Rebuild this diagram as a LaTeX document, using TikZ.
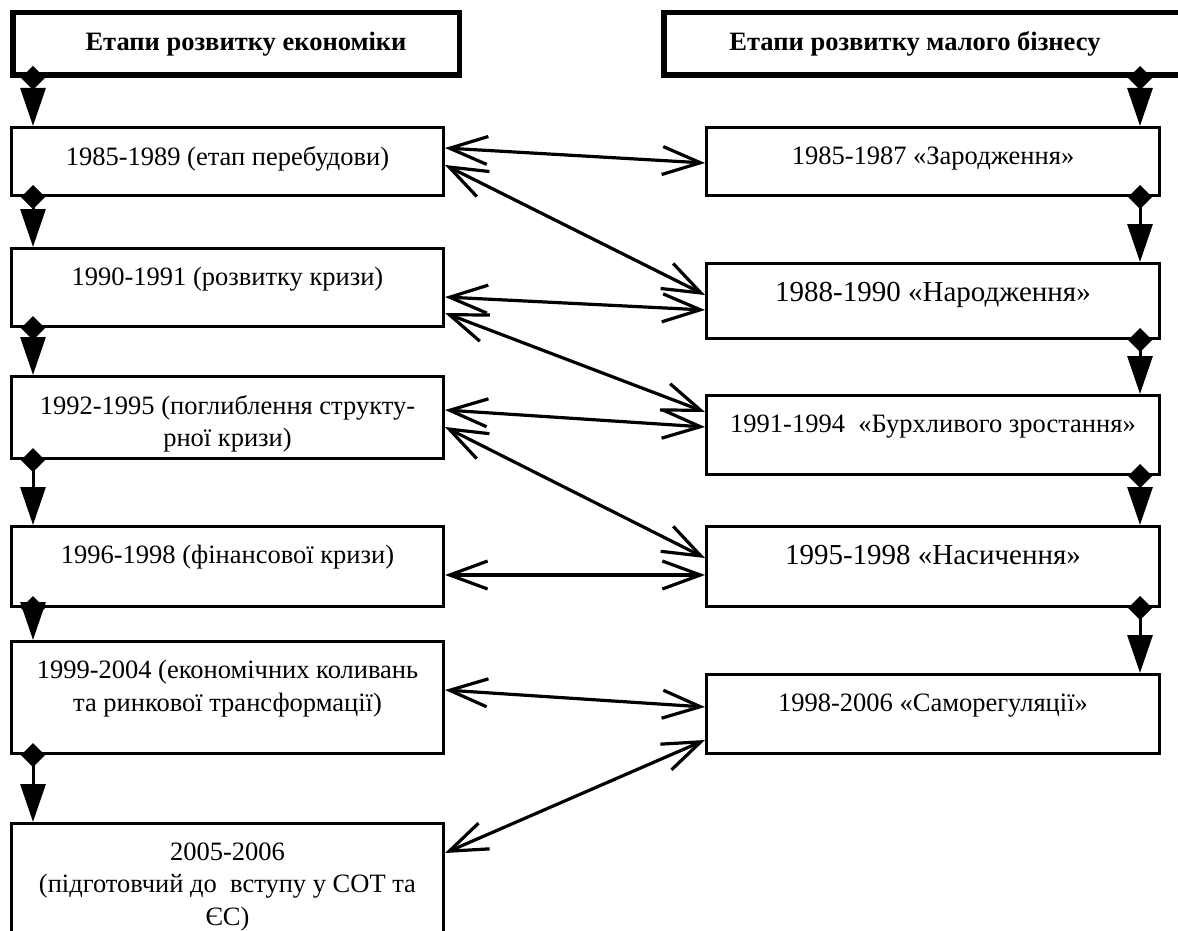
\documentclass[tikz,border=0pt]{standalone}
\usepackage{fontspec}
\setmainfont{Liberation Serif}
\usetikzlibrary{arrows.meta, calc}

\newcommand{\celltext}[3]{\parbox[t][#2][t]{#1}{\centering\vspace{19pt}#3}}

\begin{document}
\begin{tikzpicture}[x=1pt, y=-1pt, font=\fontsize{26.5}{32.5}\selectfont,
  stage/.style={draw, line width=3pt, anchor=north west, inner sep=0pt},
  head/.style={draw, line width=5.5pt, anchor=north west, inner sep=0pt, minimum height=62.5pt,
    font=\fontsize{26.5}{32.5}\selectfont\bfseries},
  flow/.style={line width=3pt, {Diamond[length=24pt,width=24pt]}-{Triangle[length=38pt,width=25pt]}, shorten <=-12pt},
  link/.style={line width=3.2pt, {Straight Barb[length=38pt,width=28pt]}-{Straight Barb[length=38pt,width=28pt]}}]
  \useasboundingbox (0,0) rectangle (1178,931);
  \clip (0,0) rectangle (1178,931);

  \node[head, minimum width=446.5pt] at (10,10) (hl) {\hspace*{20pt}Етапи розвитку економіки};
  \node[head, minimum width=518.5pt] at (661,10) (hr) {\hspace*{-16pt}Етапи розвитку малого бізнесу};

  % left column: economy stages
  \node[stage] at (10,126) (b1) {\celltext{432pt}{68pt}{1985-1989 (етап перебудови)}};
  \node[stage] at (10,247) (b2) {\celltext{432pt}{78pt}{1990-1991 (розвитку кризи)}};
  \node[stage] at (10,375) (b3) {\celltext{432pt}{82pt}{1992-1995 (поглиблення структу-\\рної кризи)}};
  \node[stage] at (10,525) (b4) {\celltext{432pt}{80pt}{1996-1998 (фінансової кризи)}};
  \node[stage] at (10,640) (b5) {\celltext{432pt}{112pt}{1999-2004 (економічних коливань\\та ринкової трансформації)}};
  \node[stage] at (10,822) (b6) {\celltext{432pt}{140pt}{2005-2006\\(підготовчий до~ вступу у СОТ та\\ЄС)}};

  % right column: small business stages
  \node[stage] at (705,126) (r1) {\celltext{453pt}{68pt}{1985-1987 «Зародження»}};
  \node[stage] at (705,262) (r2) {\celltext{453pt}{75pt}{\fontsize{29}{35}\selectfont 1988-1990 «Народження»}};
  \node[stage] at (705,394) (r3) {\celltext{453pt}{79pt}{1991-1994~ «Бурхливого зростання»}};
  \node[stage] at (705,525) (r4) {\celltext{453pt}{80pt}{\fontsize{29}{35}\selectfont 1995-1998 «Насичення»}};
  \node[stage] at (705,673) (r5) {\celltext{453pt}{79pt}{1998-2006 «Саморегуляції»}};

  \draw[flow] ($(hl.south west)+(23,0)$) -- ($(b1.north west)+(23,0)$);
  \foreach \a/\b in {b1/b2, b2/b3, b3/b4, b4/b5, b5/b6}
    \draw[flow] ($(\a.south west)+(23,0)$) -- ($(\b.north west)+(23,0)$);

  \draw[flow] ($(hr.south west)+(479,0)$) -- ($(r1.north west)+(435,0)$);
  \foreach \a/\b in {r1/r2, r2/r3, r3/r4, r4/r5}
    \draw[flow] ($(\a.south west)+(435,0)$) -- ($(\b.north west)+(435,0)$);

  % links between periods (offsets from box tops)
  \foreach \l/\dl/\r/\dr in {b1/22/r1/37, b1/39/r2/33, b2/50/r2/48, b2/66/r3/18, b3/35/r3/33,
      b3/52/r4/33, b4/50/r4/50, b5/50/r5/34, b6/31/r5/67}
    \draw[link] ($(\l.north east)+(0,\dl)$) -- ($(\r.north west)+(0,\dr)$);
\end{tikzpicture}
\end{document}
